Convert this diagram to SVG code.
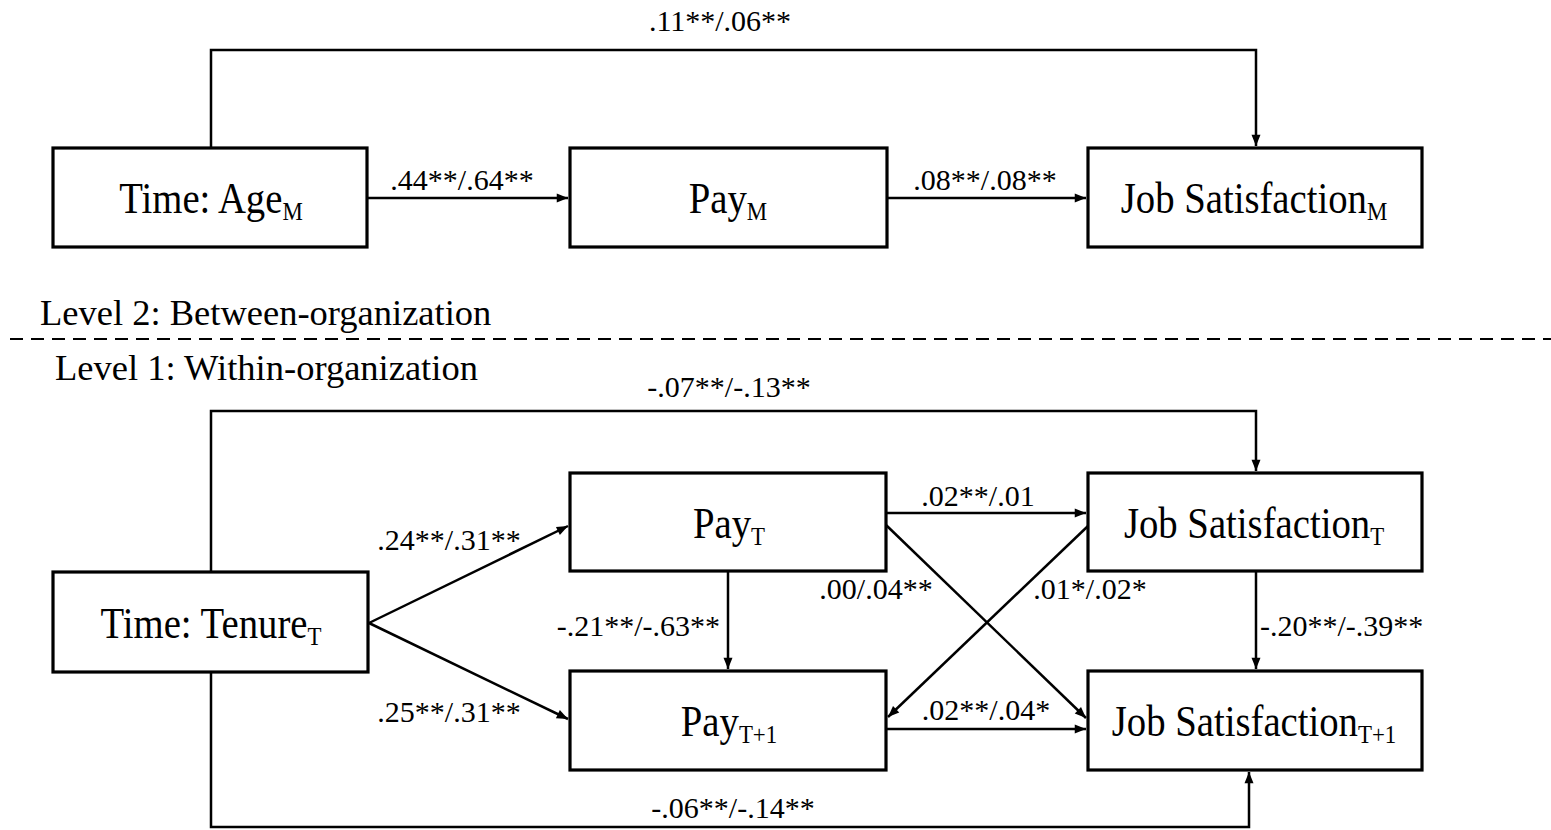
<svg xmlns="http://www.w3.org/2000/svg" width="1551" height="830" viewBox="0 0 1551 830">
<style>
.box{fill:#fff;stroke:#000;stroke-width:3.2}
.ln{fill:none;stroke:#000;stroke-width:2.5}
.t{font-family:"Liberation Serif","Times New Roman",serif;font-size:44px;fill:#000;text-anchor:middle}
.sub{font-size:26px}
.lb{font-family:"Liberation Serif","Times New Roman",serif;font-size:30px;fill:#000}
.lv{font-family:"Liberation Serif","Times New Roman",serif;font-size:36.5px;fill:#000}
</style>
<defs>
<marker id="ah" viewBox="0 0 10 10" refX="10" refY="5" markerWidth="5" markerHeight="4.5" orient="auto" markerUnits="strokeWidth">
<path d="M0,1 L10,5 L0,9 z" fill="#000"/>
</marker>
</defs>
<rect width="1551" height="830" fill="#fff"/>
<g id="connectors">
<polyline class="ln" points="211,148 211,50 1256,50 1256,146" marker-end="url(#ah)"/>
<line class="ln" x1="367" y1="198" x2="568" y2="198" marker-end="url(#ah)"/>
<line class="ln" x1="887" y1="198" x2="1086" y2="198" marker-end="url(#ah)"/>
<polyline class="ln" points="211,572 211,411 1256,411 1256,471" marker-end="url(#ah)"/>
<polyline class="ln" points="211,672 211,827 1249,827 1249,772" marker-end="url(#ah)"/>
<line class="ln" x1="369" y1="623" x2="568" y2="526" marker-end="url(#ah)"/>
<line class="ln" x1="369" y1="623" x2="568" y2="719" marker-end="url(#ah)"/>
<line class="ln" x1="728" y1="571" x2="728" y2="669" marker-end="url(#ah)"/>
<line class="ln" x1="886" y1="513" x2="1086" y2="513" marker-end="url(#ah)"/>
<line class="ln" x1="886" y1="525" x2="1086" y2="718" marker-end="url(#ah)"/>
<line class="ln" x1="1088" y1="526" x2="888" y2="717" marker-end="url(#ah)"/>
<line class="ln" x1="886" y1="729" x2="1086" y2="729" marker-end="url(#ah)"/>
<line class="ln" x1="1256" y1="571" x2="1256" y2="669" marker-end="url(#ah)"/>
<line x1="10" y1="339" x2="1551" y2="339" stroke="#000" stroke-width="2" stroke-dasharray="13,8"/>
</g>
<g id="labels">
<text class="lb" x="720" y="31" text-anchor="middle">.11**/.06**</text>
<text class="lb" x="462" y="190" text-anchor="middle">.44**/.64**</text>
<text class="lb" x="985" y="190" text-anchor="middle">.08**/.08**</text>
<text class="lv" x="40" y="325">Level 2: Between-organization</text>
<text class="lv" x="55" y="380">Level 1: Within-organization</text>
<text class="lb" x="729" y="397" text-anchor="middle">-.07**/-.13**</text>
<text class="lb" x="449" y="550" text-anchor="middle">.24**/.31**</text>
<text class="lb" x="449" y="722" text-anchor="middle">.25**/.31**</text>
<text class="lb" x="720" y="636" text-anchor="end">-.21**/-.63**</text>
<text class="lb" x="978" y="506" text-anchor="middle">.02**/.01</text>
<text class="lb" x="876" y="599" text-anchor="middle">.00/.04**</text>
<text class="lb" x="1090" y="599" text-anchor="middle">.01*/.02*</text>
<text class="lb" x="986" y="720" text-anchor="middle">.02**/.04*</text>
<text class="lb" x="1260" y="636">-.20**/-.39**</text>
<text class="lb" x="733" y="818" text-anchor="middle">-.06**/-.14**</text>
</g>
<g id="node-age"><rect class="box" x="53" y="148" width="314" height="99"/><text class="t" transform="translate(211,213) scale(0.88,1)">Time: Age<tspan class="sub" dy="7">M</tspan></text></g>
<g id="node-paym"><rect class="box" x="570" y="148" width="317" height="99"/><text class="t" transform="translate(728,213) scale(0.88,1)">Pay<tspan class="sub" dy="7">M</tspan></text></g>
<g id="node-jsm"><rect class="box" x="1088" y="148" width="334" height="99"/><text class="t" transform="translate(1254,213) scale(0.88,1)">Job Satisfaction<tspan class="sub" dy="7">M</tspan></text></g>
<g id="node-tenure"><rect class="box" x="53" y="572" width="315" height="100"/><text class="t" transform="translate(211,638) scale(0.88,1)">Time: Tenure<tspan class="sub" dy="7">T</tspan></text></g>
<g id="node-payt"><rect class="box" x="570" y="473" width="316" height="98"/><text class="t" transform="translate(729,538) scale(0.88,1)">Pay<tspan class="sub" dy="7">T</tspan></text></g>
<g id="node-payt1"><rect class="box" x="570" y="671" width="316" height="99"/><text class="t" transform="translate(729,736) scale(0.88,1)">Pay<tspan class="sub" dy="7">T+1</tspan></text></g>
<g id="node-jst"><rect class="box" x="1088" y="473" width="334" height="98"/><text class="t" transform="translate(1254,538) scale(0.88,1)">Job Satisfaction<tspan class="sub" dy="7">T</tspan></text></g>
<g id="node-jst1"><rect class="box" x="1088" y="671" width="334" height="99"/><text class="t" transform="translate(1254,736) scale(0.88,1)">Job Satisfaction<tspan class="sub" dy="7">T+1</tspan></text></g>
</svg>
